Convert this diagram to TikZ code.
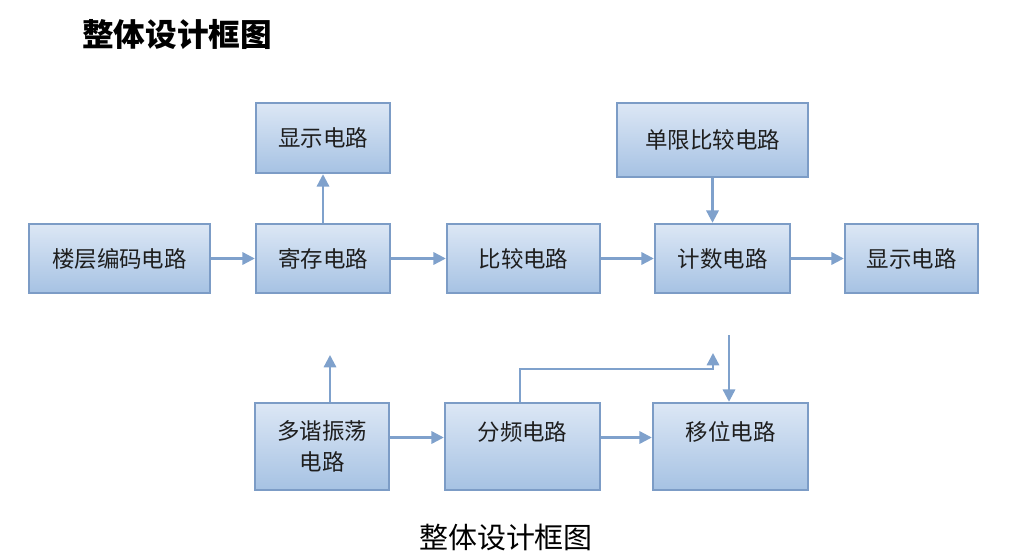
\documentclass[tikz,border=0pt]{standalone}
\usepackage{fontspec}
\setmainfont{Noto Sans CJK SC}
\usepackage{tikz}
\usetikzlibrary{arrows.meta, positioning}
\definecolor{bline}{HTML}{7C9CC6}
\definecolor{btop}{HTML}{DCE7F5}
\definecolor{bbot}{HTML}{A6C2E3}
\definecolor{aline}{HTML}{7FA1CC}
\definecolor{btext}{HTML}{1E1E1E}
\tikzset{
  cbox/.style={draw=bline, line width=1.4pt, top color=btop, bottom color=bbot,
               minimum height=1.4cm, text=btext, font=\fontsize{12.8}{18}\selectfont,
               inner sep=2pt, align=center},
  arr/.style={-{Triangle[width=7pt,length=7pt]}, line width=1.3pt, aline},
}

\begin{document}
\begin{tikzpicture}[x=0.02cm, y=-0.02cm]
  \useasboundingbox (0,0) rectangle (1013,560);

  %% Titles
  \node[font=\fontsize{18}{20}\selectfont\bfseries] (title) at (177,35) {整体设计框图};
  \node[font=\fontsize{16.5}{19}\selectfont] (caption) at (506,537) {整体设计框图};

  %% Upper row
  \node[cbox, minimum width=2.68cm] (dispA) at (323,138) {显示电路};
  \node[cbox, minimum width=3.62cm, minimum height=1.38cm] (floor) at (119.5,258.5) {楼层编码电路};
  \node[cbox, minimum width=2.68cm, minimum height=1.38cm] (reg) at (323,258.5) {寄存电路};
  \node[cbox, minimum width=3.06cm, minimum height=1.38cm] (cmp) at (523.5,258.5) {比较电路};
  \node[cbox, minimum width=3.82cm, minimum height=1.48cm] (single) at (712.5,140) {单限比较电路};
  \node[cbox, minimum width=2.70cm, minimum height=1.38cm] (cnt) at (722.5,258.5) {计数电路};
  \node[cbox, minimum width=2.66cm, minimum height=1.38cm] (dispB) at (911.5,258.5) {显示电路};

  %% Lower row
  \node[cbox, minimum width=2.68cm, minimum height=1.74cm] (osc) at (322,446.5) {多谐振荡\\电路};
  \node[cbox, minimum width=3.10cm, minimum height=1.74cm] (div) at (522.5,446.5) {分频电路\\\mbox{}};
  \node[cbox, minimum width=3.10cm, minimum height=1.74cm] (shift) at (730.5,446.5) {移位电路\\\mbox{}};

  %% Free ends
  \coordinate (oscEnd) at (330,355);
  \coordinate (divBend) at (713,369);
  \coordinate (divEnd) at (713,353);
  \coordinate (shiftIn) at (729,335);

  %% Connectors
  \draw[arr] (floor) -- (reg);
  \draw[arr] (reg) -- (dispA);
  \draw[arr] (reg) -- (cmp);
  \draw[arr] (cmp) -- (cnt);
  \draw[arr] (cnt) -- (dispB);
  \draw[arr] (single.south) -- (single.south |- cnt.north);
  \draw[arr] (osc.north -| oscEnd) -- (oscEnd);
  \draw[arr] ([xshift=-0.05cm]div.north) |- (divBend) -- (divEnd);
  \draw[arr] (shiftIn) -- (shiftIn |- shift.north);
  \draw[arr] ([yshift=0.18cm]osc.east) -- ([yshift=0.18cm]div.west);
  \draw[arr] ([yshift=0.18cm]div.east) -- ([yshift=0.18cm]shift.west);

\end{tikzpicture}
\end{document}
